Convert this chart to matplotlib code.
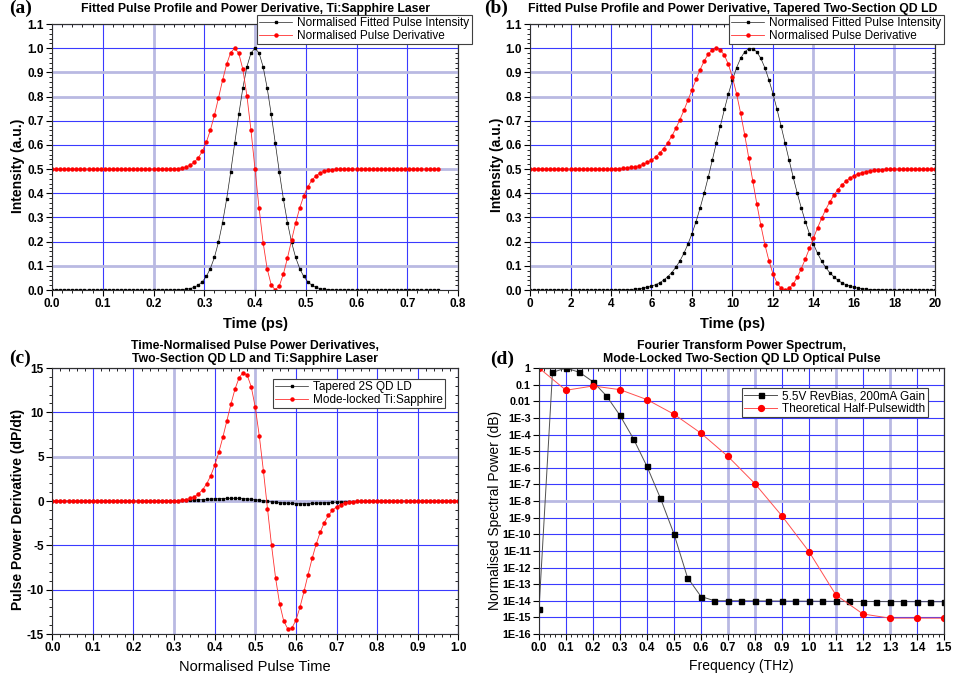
import numpy as np
import matplotlib
matplotlib.use('Agg')
import matplotlib.pyplot as plt
from matplotlib.ticker import MultipleLocator, FixedLocator, FuncFormatter

plt.rcParams['font.family'] = ['Liberation Sans', 'DejaVu Sans']
plt.rcParams['font.weight'] = 'bold'
plt.rcParams['axes.unicode_minus'] = False

# ---- (a) Ti:Sapphire pulse, time in ps ----
a_time = np.round(np.arange(96) * 0.008, 3)
a_intensity = ([0.0] * 30 +
               [0.000, 0.001, 0.002, 0.003, 0.006, 0.011, 0.020, 0.034, 0.056, 0.089,
                0.135, 0.198, 0.278, 0.375, 0.487, 0.607, 0.726, 0.835, 0.923, 0.980,
                1.000, 0.980, 0.923, 0.835, 0.726, 0.607, 0.487, 0.375, 0.278, 0.198,
                0.135, 0.089, 0.056, 0.034, 0.020, 0.011, 0.006, 0.003, 0.002, 0.001,
                0.000] +
               [0.0] * 25)
a_deriv = ([0.5] * 30 +
           [0.501, 0.502, 0.505, 0.509, 0.516, 0.528, 0.546, 0.573, 0.611, 0.661,
            0.723, 0.794, 0.867, 0.933, 0.982, 1.000, 0.979, 0.913, 0.804, 0.662,
            0.500, 0.338, 0.196, 0.087, 0.021, 0.000, 0.018, 0.067, 0.133, 0.206,
            0.277, 0.339, 0.389, 0.427, 0.454, 0.472, 0.484, 0.491, 0.495, 0.498,
            0.499] +
           [0.5] * 25)

# ---- (b) tapered two-section QD LD, time in ps ----
b_time = np.round(np.arange(101) * 0.2, 1)
b_intensity = ([0.0] * 21 +
               [0.000, 0.001, 0.001, 0.002, 0.002, 0.004, 0.005, 0.008, 0.011, 0.016,
                0.022, 0.030, 0.041, 0.055, 0.072, 0.094, 0.120, 0.152, 0.190, 0.233,
                0.283, 0.339, 0.400, 0.466, 0.536, 0.607, 0.678, 0.747, 0.811, 0.869,
                0.919, 0.958, 0.985, 0.998,
                0.998, 0.985, 0.958, 0.919, 0.869, 0.811, 0.747, 0.678, 0.607, 0.536,
                0.466, 0.400, 0.339, 0.283, 0.233, 0.190, 0.152, 0.120, 0.094, 0.072,
                0.055, 0.041, 0.030, 0.022, 0.016, 0.011, 0.008, 0.005, 0.004, 0.002,
                0.002, 0.001, 0.001, 0.000] +
               [0.0] * 12)
b_deriv = ([0.5] * 21 +
           [0.501, 0.502, 0.503, 0.505, 0.507, 0.510, 0.514, 0.520, 0.528, 0.537,
            0.550, 0.566, 0.585, 0.609, 0.636, 0.668, 0.704, 0.743, 0.785, 0.828,
            0.871, 0.911, 0.947, 0.975, 0.993, 1.000, 0.993, 0.971, 0.933, 0.879,
            0.812, 0.732, 0.643, 0.548,
            0.452, 0.357, 0.268, 0.188, 0.121, 0.067, 0.029, 0.007, 0.000, 0.007,
            0.025, 0.053, 0.089, 0.129, 0.172, 0.215, 0.257, 0.296, 0.332, 0.364,
            0.391, 0.415, 0.434, 0.450, 0.463, 0.473, 0.480, 0.486, 0.490, 0.493,
            0.495, 0.497, 0.498, 0.499] +
           [0.5] * 12)

# ---- (c) time-normalised derivatives ----
c_time = np.round(np.arange(101) * 0.01, 2)
c_qd = ([0.0] * 25 +
        [0.007, 0.010, 0.014, 0.020, 0.027, 0.036, 0.047, 0.061, 0.076, 0.095,
         0.116, 0.139, 0.163, 0.189, 0.215, 0.240, 0.262, 0.280, 0.293, 0.300,
         0.298, 0.287, 0.267, 0.238, 0.200, 0.154, 0.102, 0.046, -0.012, -0.069,
         -0.124, -0.173, -0.216, -0.251, -0.276, -0.293, -0.300, -0.298, -0.289, -0.274,
         -0.253, -0.230, -0.205, -0.179, -0.153, -0.129, -0.107, -0.087, -0.070, -0.055,
         -0.043, -0.033, -0.024, -0.018, -0.013, -0.009] +
        [0.0] * 20)
c_tisa = ([0.0] * 30 +
          [0.024, 0.048, 0.090, 0.163, 0.287, 0.486, 0.797, 1.260, 1.924, 2.830,
           4.011, 5.472, 7.180, 9.051, 10.935, 12.626, 13.893, 14.481, 14.192, 12.891,
           10.549, 7.290, 3.383, -0.853, -5.006, -8.698, -11.600, -13.535, -14.427, -14.340,
           -13.453, -11.983, -10.190, -8.294, -6.472, -4.856, -3.505, -2.434, -1.631, -1.054,
           -0.657, -0.395, -0.230, -0.129, -0.070, -0.037, -0.020] +
          [0.0] * 24)

# ---- (d) Fourier transform power spectrum ----
d_freq_meas = np.round(np.arange(31) * 0.05, 2)
d_meas = [3e-15, 0.55, 1.0, 0.55, 0.15, 0.021, 1.4e-3, 5.5e-5, 1.2e-6, 1.45e-8,
          1.05e-10, 2.5e-13, 1.8e-14, 1.0e-14, 1.0e-14, 1.0e-14, 9.8e-15, 9.7e-15,
          9.6e-15, 9.5e-15, 9.4e-15, 9.3e-15, 9.2e-15, 9.1e-15, 9.0e-15, 9.0e-15,
          8.9e-15, 8.9e-15, 8.8e-15, 8.8e-15, 8.7e-15]
d_freq_theory = np.round(np.arange(16) * 0.1, 1)
d_theory = [1.0, 0.046, 0.083, 0.05, 0.0126, 1.66e-3, 1.2e-4, 4.8e-6, 1.1e-7,
            1.26e-9, 9.1e-12, 2.2e-14, 1.6e-15, 9e-16, 9e-16, 9e-16]

BLUE = '#3a3aff'
PALE = '#b9b9e2'


def style(ax, xmaj, xmin, ymaj=None, ymin=None, pale_x=(), pale_y=(), ysize=8.5):
    ax.xaxis.set_major_locator(MultipleLocator(xmaj))
    ax.xaxis.set_minor_locator(MultipleLocator(xmin))
    if ymaj is not None:
        ax.yaxis.set_major_locator(MultipleLocator(ymaj))
        ax.yaxis.set_minor_locator(MultipleLocator(ymin))
    ax.tick_params(which='major', direction='out', length=4, width=0.8, pad=2)
    ax.tick_params(axis='x', labelsize=8.5)
    ax.tick_params(axis='y', labelsize=ysize)
    ax.tick_params(which='minor', direction='out', length=2, width=0.6)
    for lab in ax.get_xticklabels() + ax.get_yticklabels():
        lab.set_fontweight('bold')
    for sp in ax.spines.values():
        sp.set_linewidth(0.8)
        sp.set_color('#303030')
    ax.grid(True, which='major', color=BLUE, lw=0.8)
    ax.set_axisbelow(True)
    for t, ln in zip(ax.get_xticks(), ax.get_xgridlines()):
        if any(np.isclose(t, p) for p in pale_x):
            ln.set_color(PALE)
            ln.set_linewidth(2.0)
    for t, ln in zip(ax.get_yticks(), ax.get_ygridlines()):
        if any(np.isclose(t, p, rtol=1e-3, atol=0) if p < 1e-3 else np.isclose(t, p) for p in pale_y):
            ln.set_color(PALE)
            ln.set_linewidth(2.0)
    top = ax.secondary_xaxis('top')
    top.xaxis.set_major_locator(MultipleLocator(xmaj))
    top.xaxis.set_minor_locator(MultipleLocator(xmin))
    top.tick_params(which='both', direction='in', labeltop=False, width=0.6)
    top.tick_params(which='major', length=3)
    top.tick_params(which='minor', length=2)
    right = ax.secondary_yaxis('right')
    if ymaj is not None:
        right.yaxis.set_major_locator(MultipleLocator(ymaj))
        right.yaxis.set_minor_locator(MultipleLocator(ymin))
    else:
        right.yaxis.set_major_locator(ax.yaxis.get_major_locator())
        right.yaxis.set_minor_locator(FixedLocator([]))
    right.tick_params(which='both', direction='in', labelright=False, width=0.6)
    right.tick_params(which='major', length=3)
    right.tick_params(which='minor', length=2)
    for s in (top, right):
        for sp in s.spines.values():
            sp.set_linewidth(0.8)
            sp.set_color('#303030')


def legend(ax, x, y):
    leg = ax.legend(loc='upper left', bbox_to_anchor=(x / 956, 1 - y / 677),
                    bbox_transform=ax.figure.transFigure, borderaxespad=0,
                    prop={'size': 8.5, 'weight': 'normal'}, labelspacing=0.05,
                    borderpad=0.2, handlelength=2.8, handletextpad=0.4,
                    fancybox=False, framealpha=1)
    leg.get_frame().set_edgecolor('#404040')
    leg.get_frame().set_linewidth(0.8)


fig = plt.figure(figsize=(9.56, 6.77), dpi=100)

# (a)
ax = fig.add_axes([0.0544, 0.5716, 0.4247, 0.3929])
ax.plot(a_time, a_intensity, color='#202020', lw=0.5, marker='s', ms=1.8,
        mfc='black', mec='black', label='Normalised Fitted Pulse Intensity')
ax.plot(a_time, a_deriv, color='#ff3030', lw=0.6, marker='o', ms=2.2,
        mfc='red', mec='red', label='Normalised Pulse Derivative')
ax.set_xlim(0, 0.8)
ax.set_ylim(0, 1.1)
style(ax, 0.1, 0.02, 0.1, 0.02, pale_x=(0.2, 0.4), pale_y=(0.1, 0.5, 0.8, 0.9))
ax.set_title('Fitted Pulse Profile and Power Derivative, Ti:Sapphire Laser',
             fontsize=8.8, fontweight='bold', pad=8.5)
ax.set_xlabel('Time (ps)', fontsize=10.5, fontweight='bold', labelpad=5)
ax.set_ylabel('Intensity (a.u.)', fontsize=10, fontweight='bold')
ax.yaxis.set_label_coords(-0.066, 0.466)
legend(ax, 257, 15)

# (b)
ax = fig.add_axes([0.5544, 0.5716, 0.4236, 0.3929])
ax.plot(b_time, b_intensity, color='#202020', lw=0.5, marker='s', ms=1.8,
        mfc='black', mec='black', label='Normalised Fitted Pulse Intensity')
ax.plot(b_time, b_deriv, color='#ff3030', lw=0.6, marker='o', ms=2.2,
        mfc='red', mec='red', label='Normalised Pulse Derivative')
ax.set_xlim(0, 20)
ax.set_ylim(0, 1.1)
style(ax, 2, 0.4, 0.1, 0.02, pale_x=(14, 18), pale_y=(0.1, 0.5, 0.8, 0.9))
ax.set_title('Fitted Pulse Profile and Power Derivative, Tapered Two-Section QD LD',
             fontsize=8.8, fontweight='bold', pad=8.5)
ax.set_xlabel('Time (ps)', fontsize=10.5, fontweight='bold', labelpad=5)
ax.set_ylabel('Intensity (a.u.)', fontsize=10, fontweight='bold')
ax.yaxis.set_label_coords(-0.064, 0.47)
legend(ax, 729, 15)

# (c)
ax = fig.add_axes([0.0547, 0.0635, 0.4247, 0.3929])
ax.plot(c_time, c_qd, color='#202020', lw=0.5, marker='s', ms=1.8,
        mfc='black', mec='black', label='Tapered 2S QD LD')
ax.plot(c_time, c_tisa, color='#ff3030', lw=0.6, marker='o', ms=2.2,
        mfc='red', mec='red', label='Mode-locked Ti:Sapphire')
ax.set_xlim(0, 1.0)
ax.set_ylim(-15, 15)
style(ax, 0.1, 0.02, 5, 1, pale_x=(0.3, 0.5), pale_y=(5, 0))
ax.set_title('Time-Normalised Pulse Power Derivatives,\n'
             'Two-Section QD LD and Ti:Sapphire Laser',
             fontsize=8.8, fontweight='bold', pad=4, linespacing=1.2)
ax.set_xlabel('Normalised Pulse Time', fontsize=10.5, fontweight='normal', labelpad=4)
ax.set_ylabel('Pulse Power Derivative (dP/dt)', fontsize=10, fontweight='bold')
ax.yaxis.set_label_coords(-0.066, 0.47)
legend(ax, 273, 379)

# (d)
ax = fig.add_axes([0.5638, 0.0635, 0.4236, 0.3929])
ax.plot(d_freq_meas, d_meas, color='#505050', lw=0.7, marker='s', ms=3.6,
        mfc='black', mec='black', label='5.5V RevBias, 200mA Gain')
ax.plot(d_freq_theory, d_theory, color='#ff5050', lw=0.7, marker='o', ms=4.2,
        mfc='red', mec='red', label='Theoretical Half-Pulsewidth')
ax.set_yscale('log')
ax.set_xlim(0, 1.5)
ax.set_ylim(1e-16, 1)
ax.yaxis.set_major_locator(FixedLocator([10.0 ** -k for k in range(17)]))
ax.yaxis.set_minor_locator(FixedLocator([]))


def dfmt(v, pos):
    if v >= 0.01:
        return '%g' % v
    return '1E-%d' % round(-np.log10(v))


ax.yaxis.set_major_formatter(FuncFormatter(dfmt))
style(ax, 0.1, 0.02, pale_x=(0.7, 0.8, 1.1, 1.3), pale_y=(1e-8,), ysize=7.8)
ax.set_title('Fourier Transform Power Spectrum,\n'
             'Mode-Locked Two-Section QD LD Optical Pulse',
             fontsize=8.8, fontweight='bold', pad=4, linespacing=1.2)
ax.set_xlabel('Frequency (THz)', fontsize=10, fontweight='normal', labelpad=3)
ax.set_ylabel('Normalised Spectral Power (dB)', fontsize=10, fontweight='normal')
ax.yaxis.set_label_coords(-0.091, 0.466)
legend(ax, 742, 388)

for label, x, y in (('(a)', 9, 0), ('(b)', 484, 0), ('(c)', 9, 350), ('(d)', 490, 351)):
    fig.text(x / 956, 1 - y / 677, label, family='Liberation Serif',
             fontsize=14, fontweight='bold', va='top', ha='left')

fig.savefig('out.png', dpi=100)
